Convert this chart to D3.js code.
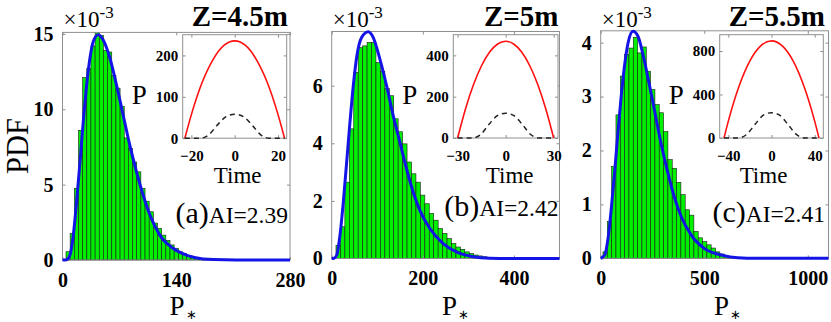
<!DOCTYPE html>
<html>
<head>
<meta charset="utf-8">
<script src="https://cdn.jsdelivr.net/npm/d3@7"></script>
<style>
  body { margin: 0; background: #fff; }
  text { font-family: "Liberation Serif", "Times New Roman", serif; fill: #000; }
</style>
</head>
<body>
<svg id="chart" width="831" height="322"></svg>
<script>
// ---- values (PDF in units of 1e-3) ----
const panelNames = ["(a)", "(b)", "(c)"];
const zLabels = ["Z=4.5m", "Z=5m", "Z=5.5m"];
const aiLabels = ["AI=2.39", "AI=2.42", "AI=2.41"];

const xDomains = [[0, 280], [0, 500], [0, 1100]];
const yDomains = [[0, 15.1], [0, 7.88], [0, 4.22]];
const xTicks = [[0, 140, 280], [0, 200, 400], [0, 500, 1000]];
const yTicks = [[0, 5, 10, 15], [0, 2, 4, 6], [0, 1, 2, 3, 4]];

// histogram bins
const binStarts = [4.3, 9.4, 11];
const binWidths = [5.12, 9.75, 20.9];
const barsA = [0.55, 1.75, 4.75, 8.6, 12.1, 12.7, 14.2, 15.1, 14.9, 13.9, 13.8, 12.25,
  11.4, 10.2, 8.1, 7.4, 6.5, 5.85, 4.75, 3.9, 3.2, 2.45, 2.1, 1.65, 1.3, 1.0, 0.78,
  0.55, 0.42, 0.3, 0.22, 0.15, 0.1, 0.06, 0.04];
const barsB = [0.46, 1.1, 2.65, 4.5, 6.46, 7.32, 7.38, 7.5, 7.5, 6.8, 6.5, 5.9, 5.65,
  4.85, 4.4, 3.98, 3.35, 2.94, 2.65, 2.2, 1.9, 1.56, 1.33, 1.04, 0.87, 0.69, 0.52,
  0.4, 0.32, 0.23, 0.17, 0.12, 0.09, 0.06, 0.04, 0.03];
const barsC = [0.12, 0.68, 1.7, 2.66, 3.38, 3.78, 3.9, 4.1, 3.81, 3.92, 3.47, 3.13,
  2.85, 2.7, 2.35, 1.83, 1.67, 1.41, 1.18, 0.9, 0.8, 0.5, 0.38, 0.31, 0.25, 0.19,
  0.12, 0.08, 0.05, 0.03];

// fitted pdf (blue line)
const fitXA = [0, 5, 9.2, 13.3, 17.4, 21.5, 25.6, 29.7, 33.8, 37.9, 44, 50.1, 58.3, 66.5,
  74.7, 82.9, 91.1, 99.3, 107.5, 119.7, 136, 152.5, 173, 200, 240, 280];
const fitYA = [0, 0.02, 0.33, 1.65, 3.9, 6.5, 9.2, 11.6, 13.4, 14.5, 14.95, 14.6, 13.4, 11.6,
  9.6, 7.6, 5.85, 4.3, 3.0, 1.65, 0.78, 0.33, 0.07, 0.01, 0, 0];
const fitXB = [0, 5, 10.9, 18.2, 25.5, 32.8, 40.1, 47.4, 54.7, 65.6, 80.2, 91.2, 105.8, 120.4,
  135, 149.6, 164.3, 178.9, 193.5, 215.4, 244.6, 273.9, 310.4, 347, 400, 500];
const fitYB = [0, 0.01, 0.11, 0.81, 1.96, 3.34, 4.73, 6.0, 6.98, 7.67, 7.87, 7.67, 6.92, 6.0,
  4.96, 4.04, 3.11, 2.3, 1.67, 1.04, 0.52, 0.23, 0.06, 0.01, 0, 0];
const fitXC = [0, 19.3, 35.4, 51.4, 67.5, 83.6, 99.6, 115.7, 131.8, 155.9, 180, 204.1, 228.2,
  260.4, 292.5, 324.7, 356.8, 389, 437.2, 501.5, 581.9, 662.3, 750, 1100];
const fitYC = [0, 0.06, 0.37, 0.93, 1.61, 2.35, 3.03, 3.59, 3.99, 4.21, 4.12, 3.78, 3.35,
  2.73, 2.11, 1.58, 1.12, 0.77, 0.43, 0.18, 0.06, 0.01, 0, 0];

// insets: P against Time
const insetXDomains = [[-24, 24], [-32.7, 32.7], [-48, 48]];
const insetYDomains = [[0, 250], [0, 500], [0, 950]];
const insetXTicks = [[-20, 0, 20], [-30, 0, 30], [-40, 0, 40]];
const insetYTicks = [[0, 100, 200], [0, 200, 400], [0, 400, 800]];

const redTA = [-23, -20, -15, -10, -5, 0, 5, 10, 15, 20, 23];
const redA = [0, 57, 135, 190, 224, 235, 224, 190, 135, 57, 0];
const redTB = [-30, -25, -20, -15, -10, -5, 0, 5, 10, 15, 20, 25, 30];
const redB = [0, 143, 260, 351, 416, 455, 468, 455, 416, 351, 260, 143, 0];
const redTC = [-44, -40, -30, -20, -10, 0, 10, 20, 30, 40, 44];
const redC = [0, 155, 478, 709, 847, 893, 847, 709, 478, 155, 0];

const dashTA = [-23, -16, -12, -8, -4, 0, 4, 8, 12, 16, 23];
const dashA = [0, 0, 8, 32, 52, 58, 52, 32, 8, 0, 0];
const dashTB = [-30, -21, -15.6, -10.4, -5.2, 0, 5.2, 10.4, 15.6, 21, 30];
const dashB = [0, 0, 17, 66, 108, 120, 108, 66, 17, 0, 0];
const dashTC = [-44, -31, -23, -15, -7.5, 0, 7.5, 15, 23, 31, 44];
const dashC = [0, 0, 33, 128, 210, 233, 210, 128, 33, 0, 0];

const bars = [barsA, barsB, barsC];
const fitX = [fitXA, fitXB, fitXC];
const fitY = [fitYA, fitYB, fitYC];
const redT = [redTA, redTB, redTC];
const redP = [redA, redB, redC];
const dashT = [dashTA, dashTB, dashTC];
const dashP = [dashA, dashB, dashC];

// ---- layout (pixels) ----
const layout = [
  { left: 62.5, right: 290, top: 32.4, bottom: 260, pX: 169.5, labBase: 223, labRight: 288,
    inset: { left: 182.7, right: 286.7, top: 34.7, bottom: 138.2 }, timeDx: 3 },
  { left: 331.7, right: 559.5, top: 31.5, bottom: 258.5, pX: 442, labBase: 216, labRight: 558.5,
    inset: { left: 453.3, right: 558, top: 34.7, bottom: 138 }, timeDx: 4 },
  { left: 600.7, right: 828.5, top: 30.8, bottom: 258.3, pX: 714, labBase: 222, labRight: 825,
    inset: { left: 719.7, right: 823.3, top: 34.7, bottom: 138 }, timeDx: -8 }
];

const boxColor = "#8f8f8f";
const serif = "'Liberation Serif', 'Times New Roman', serif";
const svg = d3.select("#chart");

let styleAxis = (g, size) => {
  g.attr("font-family", serif).attr("font-size", size).attr("font-weight", "bold");
  g.select(".domain").remove();
  g.selectAll(".tick line").attr("stroke", boxColor);
  g.selectAll(".tick text")
    .attr("fill", "#000")
    .style("font-family", serif)
    .style("font-weight", "bold")
    .style("font-size", size + "px");
};

let drawFrame = (g, x, y, box, xt, yt, fontSize, xPad, yPad) => {
  const fmt = d3.format("d");
  // x axis at bottom, ticks pointing inside
  g.append("g")
    .attr("transform", "translate(0," + box.bottom + ")")
    .call(d3.axisBottom(x).tickValues(xt).tickFormat(fmt).tickSizeInner(-3).tickSizeOuter(0).tickPadding(xPad))
    .call((a) => styleAxis(a, fontSize));
  g.append("g")
    .attr("transform", "translate(" + box.left + ",0)")
    .call(d3.axisLeft(y).tickValues(yt).tickFormat(fmt).tickSizeInner(-3).tickSizeOuter(0).tickPadding(yPad))
    .call((a) => styleAxis(a, fontSize));
  // mirrored ticks on top and right, no labels
  g.append("g")
    .attr("transform", "translate(0," + box.top + ")")
    .call(d3.axisTop(x).tickValues(xt).tickSizeInner(-3).tickSizeOuter(0).tickFormat(""))
    .call((a) => styleAxis(a, fontSize));
  g.append("g")
    .attr("transform", "translate(" + box.right + ",0)")
    .call(d3.axisRight(y).tickValues(yt).tickSizeInner(-3).tickSizeOuter(0).tickFormat(""))
    .call((a) => styleAxis(a, fontSize));
  g.append("rect")
    .attr("x", box.left).attr("y", box.top)
    .attr("width", box.right - box.left).attr("height", box.bottom - box.top)
    .attr("fill", "none").attr("stroke", boxColor).attr("stroke-width", 1);
};

let drawPanel = (i) => {
  const L = layout[i];
  const x = d3.scaleLinear().domain(xDomains[i]).range([L.left, L.right]);
  const y = d3.scaleLinear().domain(yDomains[i]).range([L.bottom, L.top]);
  const g = svg.append("g");
  const yMax = yDomains[i][1];

  g.append("rect")
    .attr("x", L.left).attr("y", L.top)
    .attr("width", L.right - L.left).attr("height", L.bottom - L.top)
    .attr("fill", "#fff");

  // histogram
  g.append("g")
    .selectAll("rect")
    .data(bars[i])
    .enter()
    .append("rect")
    .attr("x", (d, k) => x(binStarts[i] + k * binWidths[i]))
    .attr("width", (d, k) => x(binStarts[i] + (k + 1) * binWidths[i]) - x(binStarts[i] + k * binWidths[i]))
    .attr("y", (d) => y(Math.min(d, yMax)))
    .attr("height", (d) => L.bottom - y(Math.min(d, yMax)))
    .attr("fill", "#00f000")
    .attr("stroke", "#1c1c1c")
    .attr("stroke-width", 0.6);

  drawFrame(g, x, y, L, xTicks[i], yTicks[i], 20, 12.5, 9);

  // fitted curve
  const fitLine = d3.line()
    .x((d) => x(d[0]))
    .y((d) => y(d[1]))
    .curve(d3.curveMonotoneX);
  g.append("path")
    .attr("d", fitLine(d3.zip(fitX[i], fitY[i])))
    .attr("fill", "none")
    .attr("stroke", "#1414e6")
    .attr("stroke-width", 3);

  // inset
  const B = L.inset;
  const ix = d3.scaleLinear().domain(insetXDomains[i]).range([B.left, B.right]);
  const iy = d3.scaleLinear().domain(insetYDomains[i]).range([B.bottom, B.top]);
  g.append("rect")
    .attr("x", B.left).attr("y", B.top)
    .attr("width", B.right - B.left).attr("height", B.bottom - B.top)
    .attr("fill", "#fff");
  drawFrame(g, ix, iy, B, insetXTicks[i], insetYTicks[i], 15, 12, 4.5);

  const insetLine = d3.line()
    .x((d) => ix(d[0]))
    .y((d) => iy(d[1]))
    .curve(d3.curveMonotoneX);
  g.append("path")
    .attr("d", insetLine(d3.zip(redT[i], redP[i])))
    .attr("fill", "none")
    .attr("stroke", "#ff1010")
    .attr("stroke-width", 1.6);
  g.append("path")
    .attr("d", insetLine(d3.zip(dashT[i], dashP[i])))
    .attr("fill", "none")
    .attr("stroke", "#222")
    .attr("stroke-width", 1.5)
    .attr("stroke-dasharray", "5,4");

  g.append("text")
    .attr("x", (B.left + B.right) / 2 + L.timeDx)
    .attr("y", B.bottom + 45)
    .attr("text-anchor", "middle")
    .attr("font-size", 23)
    .text("Time");

  g.append("text")
    .attr("x", B.left - 51)
    .attr("y", 103.5)
    .attr("font-size", 27)
    .text("P");

  // title, exponent, label
  g.append("text")
    .attr("x", L.labRight)
    .attr("y", 26)
    .attr("text-anchor", "end")
    .attr("font-size", 29)
    .attr("font-weight", "bold")
    .text(zLabels[i]);

  const ex = g.append("text")
    .attr("x", L.left + 1)
    .attr("y", 26.5);
  ex.append("tspan").attr("font-size", 23).text("\u00d710");
  ex.append("tspan").attr("font-size", 17).attr("dy", -9).text("-3");

  const lab = g.append("text")
    .attr("x", L.labRight)
    .attr("y", L.labBase)
    .attr("text-anchor", "end");
  lab.append("tspan").attr("font-size", 30).text(panelNames[i]);
  lab.append("tspan").attr("font-size", 23.5).text(aiLabels[i]);

  g.append("text")
    .attr("x", L.pX)
    .attr("y", 315)
    .attr("font-size", 27)
    .text("P");
  g.append("text")
    .attr("x", L.pX + 16)
    .attr("y", 318.5)
    .attr("font-size", 13)
    .text("\u2217");
};

[0, 1, 2].forEach(drawPanel);

svg.append("text")
  .attr("transform", "translate(27.5,146) rotate(-90)")
  .attr("text-anchor", "middle")
  .attr("font-size", 30.5)
  .text("PDF");
</script>
</body>
</html>
